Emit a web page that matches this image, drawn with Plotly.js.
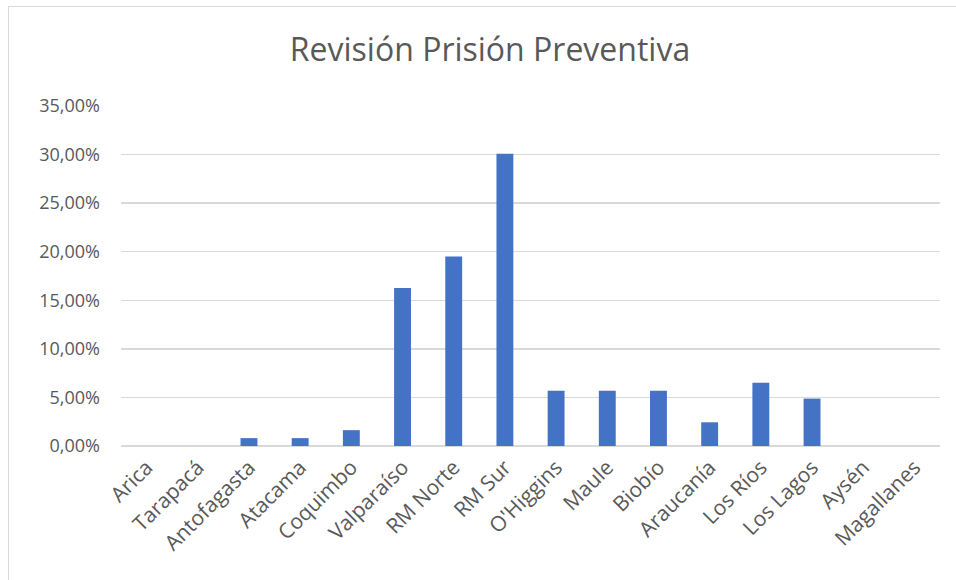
<!DOCTYPE html>
<html>
<head>
<meta charset="utf-8">
<script src="https://cdn.plot.ly/plotly-3.0.1.min.js"></script>
<style>
  html, body { margin: 0; padding: 0; background: #fff; overflow: hidden; }
  #chart { position: absolute; left: 0; top: 0; width: 956px; height: 580px; }
  #frame { position: absolute; left: 8px; top: 6px; width: 1000px; height: 700px;
           border: 1.5px solid #d9d9d9; pointer-events: none; }
</style>
</head>
<body>
<div id="chart"></div>
<div id="frame"></div>
<script>
const regions = ["Arica", "Tarapacá", "Antofagasta", "Atacama", "Coquimbo", "Valparaíso",
  "RM Norte", "RM Sur", "O'Higgins", "Maule", "Biobío", "Araucanía", "Los Ríos",
  "Los Lagos", "Aysén", "Magallanes"];
const shares = [0, 0, 0.0081, 0.0081, 0.0163, 0.1626, 0.1951, 0.3008, 0.0569, 0.0569,
  0.0569, 0.0244, 0.0650, 0.0488, 0, 0];
const tickValues = [0, 0.05, 0.10, 0.15, 0.20, 0.25, 0.30, 0.35];
const tickLabels = ["0,00%", "5,00%", "10,00%", "15,00%", "20,00%", "25,00%", "30,00%", "35,00%"];
const chartTitle = "Revisión Prisión Preventiva";

const font = "'Open Sans', 'Noto Sans', sans-serif";
const trace = {
  type: "bar",
  x: regions,
  y: shares,
  marker: { color: "#4472C4" },
  hoverinfo: "x+y"
};
const layout = {
  width: 956, height: 580,
  margin: { l: 121, r: 16, t: 106, b: 134 },
  paper_bgcolor: "rgba(0,0,0,0)",
  plot_bgcolor: "rgba(0,0,0,0)",
  bargap: 0.67,
  showlegend: false,
  title: {
    text: chartTitle,
    font: { family: font, size: 32, color: "#595959" },
    x: 490 / 956, xanchor: "center", xref: "container",
    y: 1 - 50 / 580, yanchor: "middle", yref: "container"
  },
  xaxis: {
    type: "category",
    tickangle: -45,
    tickfont: { family: font, size: 21, color: "#595959" },
    showgrid: false, showline: false, ticks: "", zeroline: false,
    ticklabelstandoff: 4,
    fixedrange: true
  },
  yaxis: {
    range: [0, 0.35],
    tickvals: tickValues,
    ticktext: tickLabels,
    tickfont: { family: font, size: 18, color: "#595959" },
    showgrid: true, gridcolor: "#d9d9d9", gridwidth: 1.5,
    zeroline: true, zerolinecolor: "#d9d9d9", zerolinewidth: 1.5,
    showline: false, ticks: "", ticklen: 0, ticklabelstandoff: 20,
    fixedrange: true
  }
};
Plotly.newPlot("chart", [trace], layout, { displayModeBar: false, staticPlot: true });
</script>
</body>
</html>
